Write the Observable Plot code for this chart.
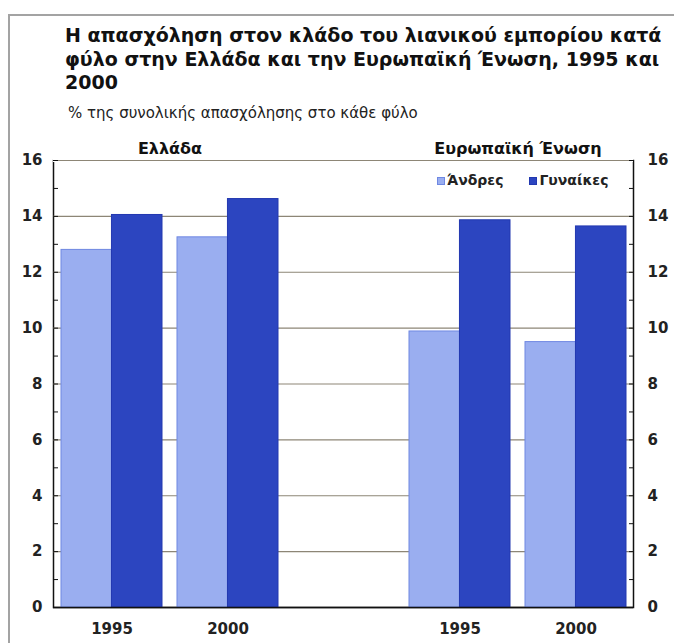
<!DOCTYPE html>
<html>
<head>
<meta charset="utf-8">
<script src="https://cdn.jsdelivr.net/npm/d3@7"></script>
<script src="https://cdn.jsdelivr.net/npm/@observablehq/plot@0.6"></script>
<style>
  body { margin: 0; width: 674px; height: 643px; position: relative; overflow: hidden; background: #fff; font-family: "DejaVu Sans", Verdana, sans-serif; color: #111; }
  #frame { position: absolute; left: 8px; top: 14px; width: 700px; height: 700px; border-left: 2px solid #a3a3a3; border-top: 2px solid #a3a3a3; }
  #title { position: absolute; left: 65px; top: 24px; margin: 0; font-weight: bold; font-size: 19px; line-height: 23.5px; color: #111; white-space: nowrap; }
  #subtitle { position: absolute; left: 68px; top: 104px; font-size: 15px; color: #222; white-space: nowrap; }
  #chart { position: absolute; left: 0; top: 125px; }
  #legend { position: absolute; left: 437px; top: 172px; font-size: 14px; font-weight: bold; display: flex; gap: 26px; color: #222; }
  #legend span.sw { display: inline-block; width: 8px; height: 8px; margin-right: 2px; vertical-align: 0px; }
  #chart svg g[aria-label="y-axis tick label"] text, #chart svg g[aria-label="x-axis tick label"] text { font-weight: bold; }
</style>
</head>
<body>
<div id="frame"></div>
<h1 id="title"></h1>
<div id="subtitle"></div>
<div id="chart"></div>
<div id="legend"></div>
<script>
// ---- data ----
const titleLines = ["Η απασχόληση στον κλάδο του λιανικού εμπορίου κατά", "φύλο στην Ελλάδα και την Ευρωπαϊκή Ένωση, 1995 και", "2000"];
const subtitle = "% της συνολικής απασχόλησης στο κάθε φύλο";
const regions = ["Ελλάδα", "Ελλάδα", "Ευρωπαϊκή Ένωση", "Ευρωπαϊκή Ένωση"];
const years = ["1995", "2000", "1995", "2000"];
const men = [12.8, 13.25, 9.88, 9.5];
const women = [14.05, 14.62, 13.86, 13.64];
const sexes = ["Άνδρες", "Γυναίκες"];
const colors = ["#9aaef0", "#2c45c0"];
const strokes = ["#6f88e2", "#2238b0"];
const panelTitles = ["Ελλάδα", "Ευρωπαϊκή Ένωση"];
const yTicks = [0, 2, 4, 6, 8, 10, 12, 14, 16];
const yMinorTicks = d3.range(0, 17);
const gapKey = "—";

// ---- derived tables ----
const rows = regions.map((r, i) => ({key: r + " " + years[i], year: years[i], men: men[i], women: women[i]}));
const xDomain = [rows[0].key, rows[1].key, gapKey, rows[2].key, rows[3].key];
const panels = panelTitles.map(p => ({label: p, key: p + " " + years[0]}));

document.getElementById("title").innerHTML = titleLines.join("<br>");
document.getElementById("subtitle").textContent = subtitle;
document.getElementById("legend").innerHTML = sexes.map((s, i) =>
  `<span><span class="sw" style="background:${colors[i]};box-shadow:inset 0 0 0 1px ${strokes[i]}"></span>${s}</span>`).join("");

const W = 674, H = 518, mL = 53, mR = 41, mT = 35, mB = 36;
const paddingInner = 0.13, paddingOuter = 0.065;
const step = (W - mL - mR) / (xDomain.length - paddingInner + 2 * paddingOuter);
const bw = step * (1 - paddingInner);
const gridColor = "#8d8676";

const chart = Plot.plot({
  width: W, height: H,
  marginLeft: mL, marginRight: mR, marginTop: mT, marginBottom: mB,
  style: {fontFamily: "DejaVu Sans, Verdana, sans-serif", fontSize: "14px", color: "#222", background: "transparent"},
  x: {domain: xDomain, paddingInner, paddingOuter, label: null},
  y: {domain: [0, 16], label: null},
  marks: [
    Plot.frame({stroke: "#111", strokeWidth: 1.5}),
    Plot.ruleY([16], {stroke: "#fff", strokeWidth: 3}),
    Plot.ruleY(yTicks.filter(d => d > 0), {stroke: gridColor, strokeWidth: 1.2}),
    Plot.barY(rows, {x: "key", y: "men", fill: colors[0], stroke: strokes[0], strokeWidth: 1, insetRight: bw / 2}),
    Plot.barY(rows, {x: "key", y: "women", fill: colors[1], stroke: strokes[1], strokeWidth: 1, insetLeft: bw / 2}),
    Plot.ruleY([0], {stroke: "#111", strokeWidth: 1.5}),
    Plot.axisY({anchor: "left", ticks: yTicks, tickSize: 0, tickPadding: 11, fontSize: 15}),
    Plot.axisY({anchor: "right", ticks: yTicks, tickSize: 0, tickPadding: 14, fontSize: 15}),
    Plot.axisY({anchor: "left", ticks: yMinorTicks, tickSize: -5, tickFormat: () => "", stroke: "#111"}),
    Plot.axisY({anchor: "right", ticks: yMinorTicks, tickSize: -5, tickFormat: () => "", stroke: "#111"}),
    Plot.axisX({tickSize: 0, tickPadding: 16, fontSize: 15, tickFormat: d => d === gapKey ? "" : d.slice(-4)}),
    Plot.text(panels, {x: "key", text: "label", dx: step / 2, frameAnchor: "top", dy: -18, fontWeight: "bold", fontSize: 16, fill: "#111"})
  ]
});
document.getElementById("chart").appendChild(chart);
</script>
</body>
</html>
